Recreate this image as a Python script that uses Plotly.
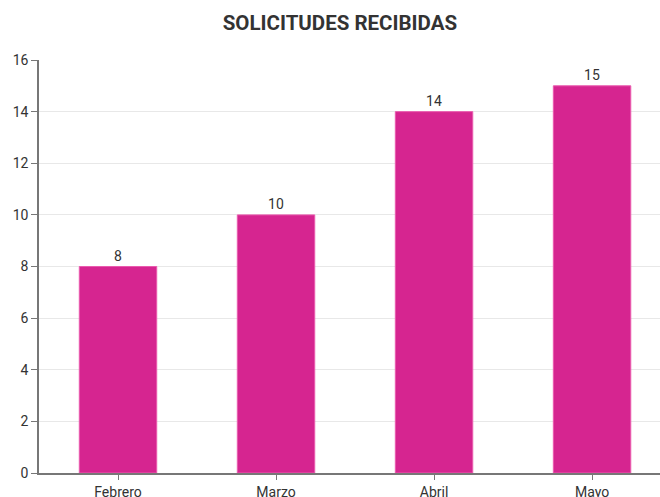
import plotly.graph_objects as go

months = ["Febrero", "Marzo", "Abril", "Mayo"]
solicitudes = [8, 10, 14, 15]
y_ticks = [0, 2, 4, 6, 8, 10, 12, 14, 16]

fig = go.Figure(go.Bar(
    x=months, y=solicitudes,
    text=[str(v) for v in solicitudes], textposition="outside",
    textfont=dict(family="Roboto", size=14, color="#333333"),
    marker=dict(color="#d62590", line=dict(color="#ea5aae", width=1)),
    cliponaxis=False,
))

fig.update_layout(
    width=660, height=497,
    margin=dict(l=39, r=0, t=60, b=24, autoexpand=False),
    paper_bgcolor="white", plot_bgcolor="white",
    bargap=0.51,
    showlegend=False,
    title=dict(text="<b>SOLICITUDES RECIBIDAS</b>", x=0.515, xanchor="center", y=0.955, yanchor="middle",
               font=dict(family="Roboto", size=20.5, color="#333333")),
    font=dict(family="Roboto", size=14, color="#333333"),
)
fig.update_xaxes(
    range=[-0.5, 3.43], showline=True, linecolor="#777777", linewidth=1.5,
    ticks="outside", ticklen=5, tickcolor="#777777", showgrid=False,
    tickfont=dict(family="Roboto", size=14, color="#333333"),
)
fig.update_yaxes(
    range=[0, 16], tickvals=y_ticks, showline=True, linecolor="#777777", linewidth=1.5,
    ticks="outside", ticklen=6, tickcolor="#777777",
    showgrid=True, gridcolor="#e8e8e8", gridwidth=1, zeroline=False,
    tickfont=dict(family="Roboto", size=14, color="#333333"),
)

fig.write_html("out.html", config={"displayModeBar": False},
               post_script="document.body.style.margin='0';document.body.style.overflow='hidden';")
